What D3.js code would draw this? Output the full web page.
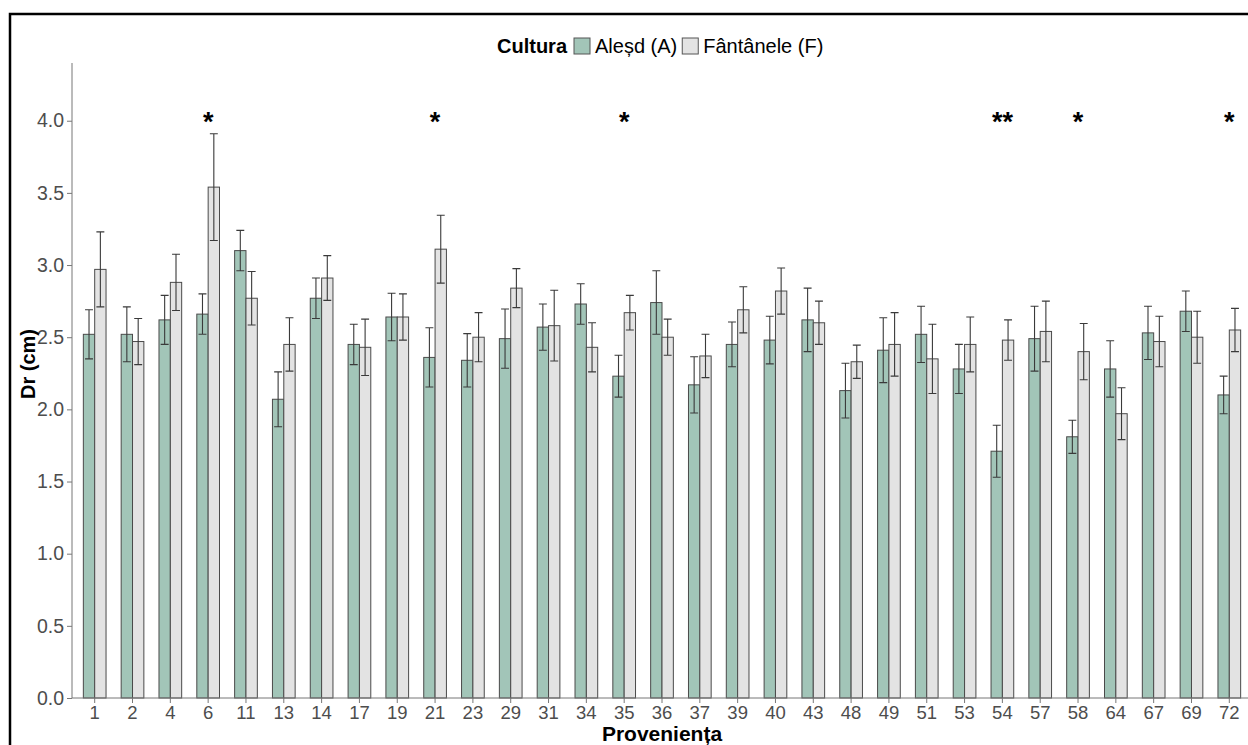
<!DOCTYPE html>
<html><head><meta charset="utf-8">
<script src="https://cdn.jsdelivr.net/npm/d3@7/dist/d3.min.js"></script>
<style>body{margin:0;background:#fff}svg{display:block}text{font-family:"Liberation Sans",Arial,sans-serif}</style>
</head><body>
<script>
const categories = ["1","2","4","6","11","13","14","17","19","21","23","29","31","34","35","36","37","39","40","43","48","49","51","53","54","57","58","64","67","69","72"];
const seriesNames = ["Aleșd (A)","Fântânele (F)"];
const valuesA = [2.52,2.52,2.62,2.66,3.10,2.07,2.77,2.45,2.64,2.36,2.34,2.49,2.57,2.73,2.23,2.74,2.17,2.45,2.48,2.62,2.13,2.41,2.52,2.28,1.71,2.49,1.81,2.28,2.53,2.68,2.10];
const errA    = [0.17,0.19,0.17,0.14,0.14,0.19,0.14,0.14,0.165,0.205,0.185,0.205,0.16,0.14,0.145,0.22,0.195,0.155,0.165,0.22,0.19,0.225,0.195,0.17,0.18,0.225,0.115,0.195,0.185,0.14,0.13];
const valuesF = [2.97,2.47,2.88,3.54,2.77,2.45,2.91,2.43,2.64,3.11,2.50,2.84,2.58,2.43,2.67,2.50,2.37,2.69,2.82,2.60,2.33,2.45,2.35,2.45,2.48,2.54,2.40,1.97,2.47,2.50,2.55];
const errF    = [0.26,0.16,0.195,0.37,0.185,0.185,0.155,0.195,0.16,0.235,0.17,0.135,0.245,0.17,0.12,0.125,0.15,0.16,0.16,0.15,0.115,0.22,0.24,0.19,0.14,0.21,0.195,0.18,0.175,0.18,0.15];
const significance = ["","","","*","","","","","","*","","","","","*","","","","","","","","","","**","","*","","","","*"];
const yTicks = [0,0.5,1,1.5,2,2.5,3,3.5,4];
const yMax = 4.4, starLevel = 4.0;

const W = 1248, H = 745;
const svg = d3.select("body").append("svg").attr("width", W).attr("height", H);
const L = 72, R = 1252, T = 63, B = 698;
const colors = ["#a2c5b8", "#e3e3e3"];

const x0 = d3.scaleBand().domain(categories).range([L, R]).paddingInner(0).paddingOuter(0.1);
const step = x0.step();
const x1 = d3.scaleBand().domain(seriesNames).range([0, 0.6 * step]);
const y = d3.scaleLinear().domain([0, yMax]).range([B, T]);

// frame
svg.append("path").attr("d", `M10,${H+5} L10,14 L${W+5},14`).attr("fill","none").attr("stroke","#000").attr("stroke-width",2.5);

const rows = categories.map((c, i) => ({c, vals: [
  {s: seriesNames[0], v: valuesA[i], e: errA[i], k: 0},
  {s: seriesNames[1], v: valuesF[i], e: errF[i], k: 1}], sig: significance[i]}));

const g = svg.append("g");
const grp = g.selectAll("g.grp").data(rows).join("g")
  .attr("transform", d => `translate(${x0(d.c) + x0.bandwidth()/2 - 0.3*step},0)`);
grp.selectAll("rect").data(d => d.vals).join("rect")
  .attr("x", d => x1(d.s)).attr("width", x1.bandwidth())
  .attr("y", d => y(d.v)).attr("height", d => y(0) - y(d.v))
  .attr("fill", d => colors[d.k]).attr("stroke", "#4a4a4a").attr("stroke-width", 1);
const cap = x1.bandwidth() * 0.35;
grp.selectAll("path.err").data(d => d.vals).join("path").attr("class","err")
  .attr("d", d => {
    const cx = x1(d.s) + x1.bandwidth()/2, y1 = y(d.v + d.e), y2 = y(d.v - d.e);
    return `M${cx-cap},${y1}H${cx+cap}M${cx},${y1}V${y2}M${cx-cap},${y2}H${cx+cap}`;
  })
  .attr("fill","none").attr("stroke","#3a3a3a").attr("stroke-width",1.1);

// significance
g.selectAll("text.sig").data(rows.filter(d => d.sig)).join("text")
  .attr("x", d => x0(d.c) + x0.bandwidth()/2).attr("y", y(starLevel) + 10)
  .attr("text-anchor","middle").attr("font-size", 27).attr("font-weight","bold").attr("fill","#000")
  .text(d => d.sig);

// axes
const yAxis = svg.append("g").attr("transform", `translate(${L},0)`)
  .call(d3.axisLeft(y).tickValues(yTicks).tickFormat(d3.format(".1f")).tickSize(5).tickPadding(3));
yAxis.select(".domain").attr("stroke","#777").attr("d", `M0,${T}V${B}`);
yAxis.selectAll(".tick line").attr("stroke","#777");
yAxis.selectAll(".tick text").attr("fill","#4d4d4d").attr("font-size",19.5);

const xAxis = svg.append("g").attr("transform", `translate(0,${B})`)
  .call(d3.axisBottom(x0).tickSize(5).tickPadding(3));
xAxis.select(".domain").attr("stroke","#777").attr("d", `M${L},0H${W}`);
xAxis.selectAll(".tick line").attr("stroke","#777");
xAxis.selectAll(".tick text").attr("fill","#4d4d4d").attr("font-size",18.5);

// titles
svg.append("text").attr("x", (L+R)/2).attr("y", 741).attr("text-anchor","middle")
  .attr("font-size",21).attr("font-weight","bold").attr("fill","#000").text("Proveniența");
svg.append("text").attr("transform", `translate(35,364) rotate(-90)`).attr("text-anchor","middle")
  .attr("font-size",20).attr("font-weight","bold").attr("fill","#000").text("Dr (cm)");

// legend
const lg = svg.append("g");
let lx = 497;
const t0 = lg.append("text").attr("x", lx).attr("y", 53).attr("font-size",20).attr("font-weight","bold").attr("fill","#000").text("Cultura");
lx += t0.node().getComputedTextLength() + 7;
seriesNames.forEach((s, k) => {
  lg.append("rect").attr("x", lx).attr("y", 38).attr("width", 16).attr("height", 16)
    .attr("fill", colors[k]).attr("stroke","#555").attr("stroke-width",1);
  lx += 21;
  const t = lg.append("text").attr("x", lx).attr("y", 53).attr("font-size",20).attr("fill","#000").text(s);
  lx += t.node().getComputedTextLength() + 5;
});
</script>
</body></html>
